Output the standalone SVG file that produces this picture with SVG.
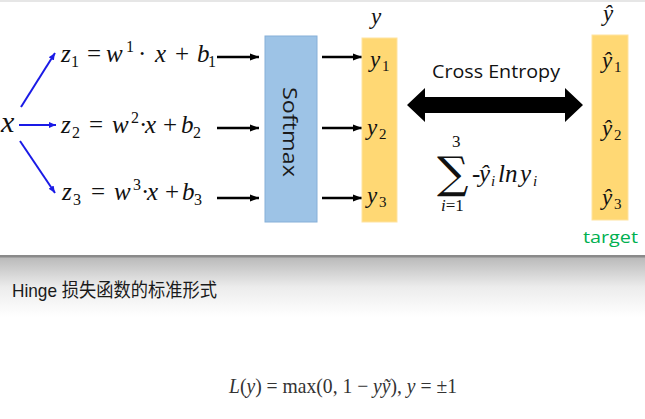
<svg xmlns="http://www.w3.org/2000/svg" width="645" height="419" viewBox="0 0 645 419">
<defs>
<style>
.m{font-family:"Liberation Serif","DejaVu Serif",serif;font-style:italic;font-size:25px;fill:#111}
.u{font-style:normal}
.s{font-style:normal;font-size:16px}
.y{font-family:"Liberation Serif","DejaVu Serif",serif;font-style:italic;font-size:23px;fill:#111}
.ys{font-style:normal;font-size:15px}
.sans{font-family:"Open Sans","Liberation Sans",sans-serif}
.blk{stroke:#000;stroke-width:2.5;fill:none;marker-end:url(#ab)}
.blu{stroke:#1a1ae6;stroke-width:2;fill:none;marker-end:url(#abl)}
</style>
<marker id="ab" markerUnits="userSpaceOnUse" markerWidth="10" markerHeight="10" refX="9" refY="5" orient="auto"><path d="M0,1.5 L9,5 L0,8.5 Z" fill="#000"/></marker>
<marker id="abl" markerUnits="userSpaceOnUse" markerWidth="8" markerHeight="8" refX="7" refY="4" orient="auto"><path d="M0,1 L7,4 L0,7 Z" fill="#1a1ae6"/></marker>
<linearGradient id="band" x1="0" y1="0" x2="0" y2="1">
<stop offset="0" stop-color="#b9b9b9"/>
<stop offset="0.5" stop-color="#ececec"/>
<stop offset="1" stop-color="#ffffff"/>
</linearGradient>
</defs>
<rect width="645" height="419" fill="#fff"/>
<rect x="0" y="0" width="645" height="2" fill="#e6e6e6"/>
<rect x="0" y="257" width="645" height="60" fill="url(#band)"/>
<rect x="0" y="255" width="645" height="2.5" fill="#8a8a8a"/>

<g id="connectors">
<line class="blu" x1="21" y1="107" x2="55" y2="53"/>
<line class="blu" x1="19" y1="125" x2="56" y2="125"/>
<line class="blu" x1="20" y1="141" x2="55" y2="193"/>
<line class="blk" x1="217" y1="57" x2="259" y2="57"/>
<line class="blk" x1="217" y1="128" x2="259" y2="128"/>
<line class="blk" x1="217" y1="198" x2="259" y2="198"/>
<line class="blk" x1="322" y1="57" x2="362" y2="57"/>
<line class="blk" x1="322" y1="128" x2="362" y2="128"/>
<line class="blk" x1="322" y1="198" x2="362" y2="198"/>
<polygon points="407,105 425,88 425,97 565,97 565,88 583,105 565,122 565,113 425,113 425,122" fill="#000"/>
</g>

<g id="input-x">
<text class="m" x="1" y="132" style="font-size:30px">x</text>
</g>

<g id="z-equations">
<text class="m" y="62"><tspan x="61">z</tspan><tspan class="s" x="71" y="67">1</tspan><tspan class="u" x="87" y="62">=</tspan><tspan x="106">w</tspan><tspan class="s" x="126" y="52">1</tspan><tspan class="u" x="138" y="62">·</tspan><tspan x="155">x</tspan><tspan class="u" x="175">+</tspan><tspan x="197">b</tspan><tspan class="s" x="208" y="67">1</tspan></text>
<text class="m" y="133"><tspan x="61">z</tspan><tspan class="s" x="72" y="138">2</tspan><tspan class="u" x="89" y="133">=</tspan><tspan x="112">w</tspan><tspan class="s" x="131" y="123">2</tspan><tspan class="u" x="139" y="133">·</tspan><tspan x="145">x</tspan><tspan class="u" x="163">+</tspan><tspan x="181">b</tspan><tspan class="s" x="193" y="138">2</tspan></text>
<text class="m" y="200"><tspan x="62">z</tspan><tspan class="s" x="73" y="205">3</tspan><tspan class="u" x="91" y="200">=</tspan><tspan x="114">w</tspan><tspan class="s" x="133" y="190">3</tspan><tspan class="u" x="141" y="200">·</tspan><tspan x="147">x</tspan><tspan class="u" x="165">+</tspan><tspan x="182">b</tspan><tspan class="s" x="194" y="205">3</tspan></text>
</g>

<g id="softmax">
<rect x="265" y="36" width="52" height="186" fill="#9dc3e6" stroke="#86afd8" stroke-width="1"/>
<text class="sans" transform="translate(283,132) rotate(90)" text-anchor="middle" font-size="20" fill="#1a1a1a" textLength="90" lengthAdjust="spacingAndGlyphs">Softmax</text>
</g>

<g id="output-y">
<rect x="362" y="38" width="35" height="184" fill="#ffd874" stroke="#ffe3a0" stroke-width="1"/>
<text class="y" x="371" y="24">y</text>
<text class="y" y="67"><tspan x="370">y</tspan><tspan class="ys" x="382" y="71">1</tspan></text>
<text class="y" y="135"><tspan x="367">y</tspan><tspan class="ys" x="379" y="139">2</tspan></text>
<text class="y" y="203"><tspan x="367">y</tspan><tspan class="ys" x="379" y="207">3</tspan></text>
</g>

<g id="cross-entropy">
<text class="sans" x="432" y="78" font-size="18" fill="#111" textLength="128" lengthAdjust="spacingAndGlyphs">Cross Entropy</text>
<text x="437" y="188" style="font-family:'DejaVu Serif',serif;font-size:44px;fill:#111">∑</text>
<text x="452" y="147" style="font-family:'Liberation Serif',serif;font-size:17px;fill:#111">3</text>
<text x="441" y="211" style="font-family:'Liberation Serif',serif;font-size:17px;fill:#111"><tspan style="font-style:italic">i</tspan>=1</text>
<text class="m" y="182"><tspan x="472" class="u">-</tspan><tspan x="479">ŷ</tspan><tspan x="491" y="186" style="font-size:15px">i</tspan><tspan x="498" y="182">ln</tspan><tspan x="520">y</tspan><tspan x="533" y="186" style="font-size:15px">i</tspan></text>
</g>

<g id="target">
<rect x="592" y="35" width="36" height="185" fill="#ffd874" stroke="#ffe3a0" stroke-width="1"/>
<text class="y" x="603" y="21">ŷ</text>
<text class="y" y="68"><tspan x="602">ŷ</tspan><tspan class="ys" x="614" y="72">1</tspan></text>
<text class="y" y="136"><tspan x="602">ŷ</tspan><tspan class="ys" x="614" y="140">2</tspan></text>
<text class="y" y="205"><tspan x="602">ŷ</tspan><tspan class="ys" x="614" y="209">3</tspan></text>
<text class="sans" x="583" y="243" font-size="17" fill="#00b050" textLength="55" lengthAdjust="spacingAndGlyphs">target</text>
</g>

<g id="hinge">
<text x="12" y="297" font-family="Liberation Sans,'Noto Sans CJK SC',sans-serif" font-size="19" fill="#1a1a1a" textLength="205" lengthAdjust="spacingAndGlyphs">Hinge 损失函数的标准形式</text>
<text x="229" y="393" font-family="Liberation Serif,serif" font-size="21" fill="#333" textLength="228" lengthAdjust="spacingAndGlyphs"><tspan font-style="italic">L</tspan>(<tspan font-style="italic">y</tspan>) = max(0, 1 − <tspan font-style="italic">yỹ</tspan>), <tspan font-style="italic">y</tspan> = ±1</text>
</g>
</svg>
